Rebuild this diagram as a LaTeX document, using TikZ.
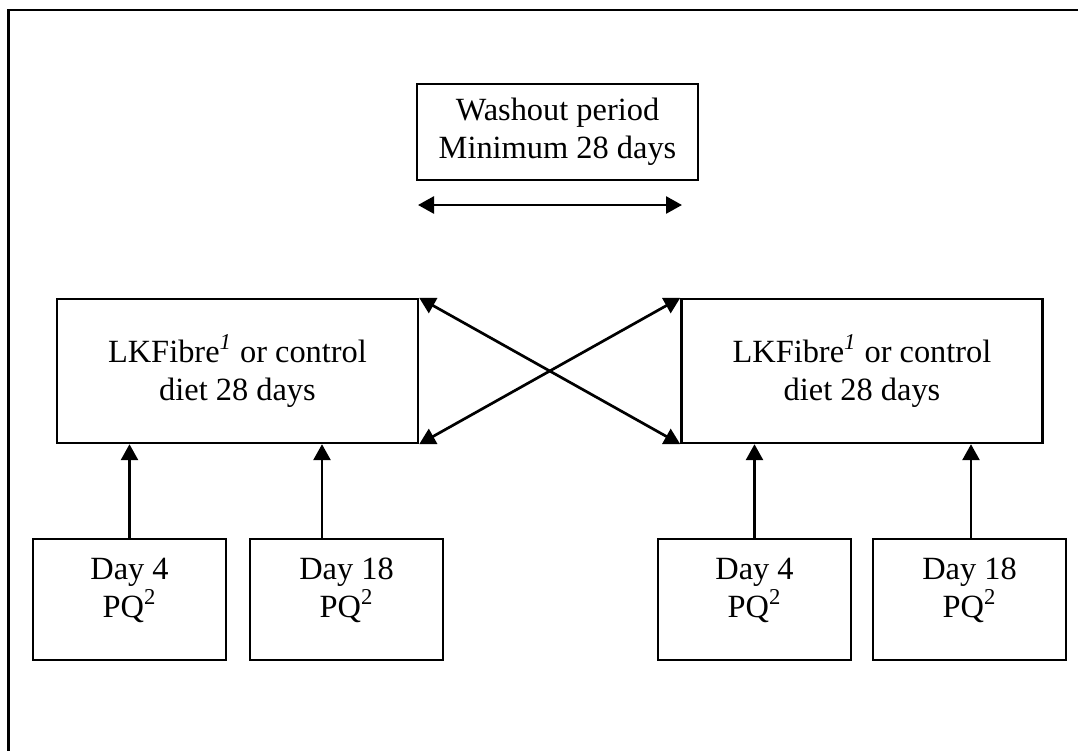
\documentclass[tikz,border=0pt]{standalone}
\usepackage{fontspec}
\setmainfont{Liberation Serif}
\usepackage{tikz}
\usetikzlibrary{calc, arrows.meta, positioning}
\newcommand\supnote[1]{\textsuperscript{#1}}

\tikzset{
  boxline/.style={draw, line width=1.2pt, rectangle, inner sep=0pt},
  dietbox/.style={boxline, minimum width=180.5pt, minimum height=72pt, align=center},
  daybox/.style={boxline, minimum width=96.5pt, minimum height=60.5pt},
  daytext/.style={align=center, inner sep=0pt},
  link/.style={line width=1.35pt}
}

\begin{document}
\begin{tikzpicture}[x=0.5pt, y=-0.5pt, >={Triangle[length=8pt,width=8.5pt]},
  font=\fontsize{16.2}{19}\selectfont]

\useasboundingbox (0,0) rectangle (1078,751);

% frame
\draw[line width=1.4pt] (1078,10) -- (8.5,10) -- (8.5,751);

% washout
\node[boxline, minimum width=140.5pt, minimum height=48pt, align=center] (washout) at (557.5,132)
  {Washout period\\Minimum 28 days};
\coordinate (wl) at (418,205);
\coordinate (wr) at (682,205);
\draw[link,<->] (wl) -- (wr);

% diet periods
\node[dietbox] (lbox) at (237.5,371) {LKFibre\supnote{\textit{1}} or control\\diet 28 days};
\node[dietbox] (rbox) at (862,371) {LKFibre\supnote{\textit{1}} or control\\diet 28 days};

\draw[link,<->] (lbox.north east) -- (rbox.south west);
\draw[link,<->] (lbox.south east) -- (rbox.north west);

% sampling days
\node[daybox] (d4a) at (129.5,599.5) {};
\node[daybox] (d18a) at (346.5,599.5) {};
\node[daybox] (d4b) at (754.5,599.5) {};
\node[daybox] (d18b) at (969.5,599.5) {};

\node[daytext] (t4a) at (129.5,590) {Day 4\\PQ\supnote{2}};
\node[daytext] (t18a) at (346.5,590) {Day 18\\PQ\supnote{2}};
\node[daytext] (t4b) at (754.5,590) {Day 4\\PQ\supnote{2}};
\node[daytext] (t18b) at (969.5,590) {Day 18\\PQ\supnote{2}};

\draw[link,->] (d4a.north) -- (d4a.north |- lbox.south);
\draw[link,->] ($(d18a.north)+(-24.5,0)$) coordinate (a18) -- (a18 |- lbox.south);
\draw[link,->] (d4b.north) -- (d4b.north |- rbox.south);
\draw[link,->] ($(d18b.north)+(1.5,0)$) coordinate (b18) -- (b18 |- rbox.south);

\end{tikzpicture}
\end{document}
